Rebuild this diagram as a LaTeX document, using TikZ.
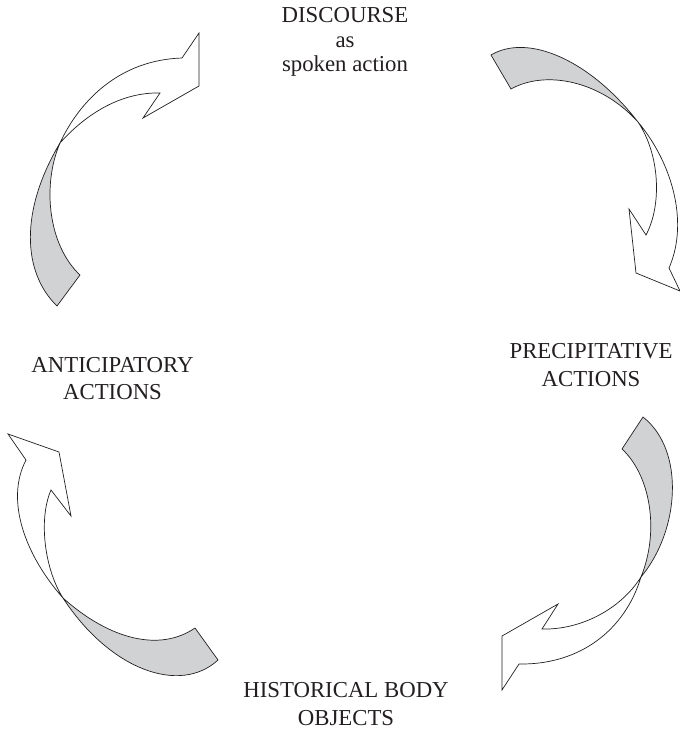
\documentclass[tikz,border=0pt]{standalone}
\usepackage{fontspec}
\setmainfont{Liberation Serif}
\definecolor{ribbon}{RGB}{209,210,212}
\definecolor{ink}{RGB}{35,31,32}
\tikzset{
  lbl/.style={align=center, inner sep=0pt, text=ink, anchor=base,
              font=\fontsize{22.8}{27.5}\selectfont},
  tailpart/.style={fill=ribbon, draw=ink, line width=0.7pt, line join=miter},
  headpart/.style={fill=white, draw=ink, line width=0.7pt, line join=miter}
}
\begin{document}
\begin{tikzpicture}[x=1pt, y=-1pt]
\useasboundingbox (0,0) rectangle (680,731);

% ---- labels (positioned by the baseline of their last line) ----
\node[lbl, font=\fontsize{22.8}{24.5}\selectfont] (discourse) at (345,71.5) {DISCOURSE\\as\\spoken action};
\node[lbl] (anticip) at (112.5,399.5) {ANTICIPATORY\\ACTIONS};
\node[lbl] (precip) at (591,386) {PRECIPITATIVE\\ACTIONS};
\node[lbl] (histbody) at (346,725) {HISTORICAL BODY\\OBJECTS};

% ---- twisted arrow, upper left ----
\coordinate (xa) at (60,143);
\draw[tailpart] (57,306) .. controls (22,272) and (20,210) .. (xa)
  .. controls (42,185) and (48,245) .. (80,275) -- cycle;
\draw[headpart] (xa) .. controls (80,100) and (120,60) .. (182,58)
  -- (199,33) -- (199,86) -- (143,118) -- (160,93)
  .. controls (120,92) and (85,115) .. (xa) -- cycle;

% ---- twisted arrow, upper right ----
\coordinate (xb) at (638,122);
\draw[tailpart] (491,55) .. controls (528,33) and (590,60) .. (xb)
  .. controls (600,80) and (545,70) .. (511,89) -- cycle;
\draw[headpart] (xb) .. controls (660,155) and (662,205) .. (646,235)
  -- (629,209) -- (636,273) -- (680,291) -- (669,268)
  .. controls (690,220) and (670,160) .. (xb) -- cycle;

% ---- twisted arrow, lower right ----
\coordinate (xc) at (641,577);
\draw[tailpart] (643,417) .. controls (685,450) and (680,530) .. (xc)
  .. controls (660,530) and (650,475) .. (622,449) -- cycle;
\draw[headpart] (xc) .. controls (620,610) and (580,630) .. (542,629)
  -- (558,604) -- (502,636) -- (502,690) -- (519,664)
  .. controls (580,665) and (625,630) .. (xc) -- cycle;

% ---- twisted arrow, lower left ----
\coordinate (xd) at (63,598);
\draw[tailpart] (195,628) .. controls (160,652) and (110,640) .. (xd)
  .. controls (110,670) and (180,695) .. (218,660) -- cycle;
\draw[headpart] (xd) .. controls (25,555) and (5,500) .. (26,460)
  -- (8,434) -- (59,452) -- (71,516) -- (51,490)
  .. controls (38,520) and (45,570) .. (xd) -- cycle;
\end{tikzpicture}
\end{document}
